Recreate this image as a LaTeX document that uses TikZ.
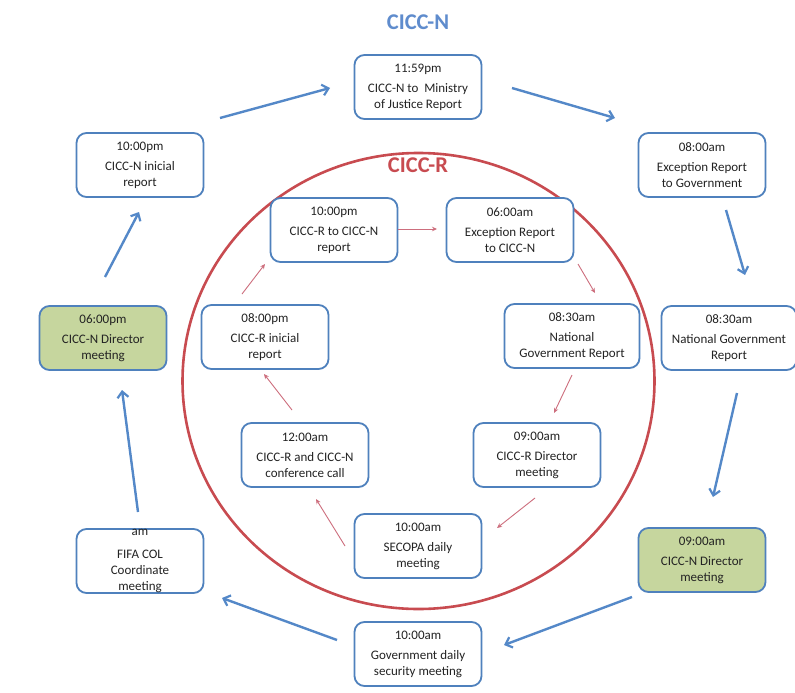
\documentclass[tikz,border=0pt]{standalone}
\usepackage{fontspec}
\setmainfont{Carlito}
\usetikzlibrary{arrows.meta}
\definecolor{boxblue}{RGB}{79,129,189}
\definecolor{arrblue}{RGB}{84,136,200}
\definecolor{titleblue}{RGB}{95,140,205}
\definecolor{cred}{RGB}{200,75,80}
\definecolor{pinkarr}{RGB}{205,110,125}
\definecolor{boxgreen}{RGB}{198,214,158}
\definecolor{txt}{RGB}{35,35,35}
\tikzset{
  stepbox/.style={draw=boxblue, line width=1.8pt, rounded corners=10pt, fill=white,
    minimum width=127pt, minimum height=64pt, inner sep=2pt, align=center,
    text=txt, font=\fontsize{13}{16}\selectfont},
  widebox/.style={stepbox, minimum width=135pt},
  greenbox/.style={stepbox, fill=boxgreen},
  plaintext/.style={align=center, text=txt, inner sep=0pt, font=\fontsize{13}{16}\selectfont},
  outarr/.style={draw=arrblue, line width=2.4pt, -{Straight Barb[length=6pt,width=11pt,line width=2.2pt]}},
  inarr/.style={draw=pinkarr, line width=0.9pt, -{Stealth[length=5pt,width=4.5pt]}},
  titletext/.style={font=\fontsize{22.5}{26}\selectfont\bfseries}
}
\begin{document}
\begin{tikzpicture}[x=1pt,y=-1pt]
\useasboundingbox[fill=white] (0,0) rectangle (795,693);
% red circle
\draw[cred, line width=2.6pt] (418.5,381) ellipse [x radius=236, y radius=228];
% titles
\node[titletext, text=titleblue] (tn) at (418,22) {CICC-N};
\node[titletext, text=cred] (tr) at (418,165) {CICC-R};
% outer nodes
\node[stepbox] (n1) at (418,87) {11:59pm\\[4pt]CICC-N to~~Ministry\\of Justice Report};
\node[stepbox] (n2) at (702,165) {08:00am\\[4pt]Exception Report\\to Government};
\node[widebox] (n3) at (729,338) {08:30am\\[4pt]National Government\\Report};
\node[greenbox] (n4) at (702,560) {09:00am\\[4pt]CICC-N Director\\meeting};
\node[stepbox] (n5) at (418,654) {10:00am\\[4pt]Government daily\\security meeting};
\node[stepbox] (n6) at (140,561) {};
\node[plaintext] (n6t) at (n6.center) {am\\[7pt]FIFA COL\\Coordinate\\meeting};
\node[greenbox] (n7) at (103,338) {06:00pm\\[4pt]CICC-N Director\\meeting};
\node[stepbox] (n8) at (140,165) {10:00pm\\[4pt]CICC-N inicial\\report};
% inner nodes
\node[stepbox] (a) at (334,230) {10:00pm\\[4pt]CICC-R to CICC-N\\report};
\node[stepbox] (b) at (510,230) {06:00am\\[4pt]Exception Report\\to CICC-N};
\node[widebox] (c) at (572,336) {08:30am\\[4pt]National\\Government Report};
\node[stepbox] (d) at (265,337) {08:00pm\\[4pt]CICC-R inicial\\report};
\node[stepbox] (e) at (305,455) {12:00am\\[4pt]CICC-R and CICC-N\\conference call};
\node[stepbox] (f) at (537,455) {09:00am\\[4pt]CICC-R Director\\meeting};
\node[stepbox] (g) at (418,546) {10:00am\\[4pt]SECOPA daily\\meeting};
% outer arrows
\draw[outarr] ([shift={(80,-47)}]n8.center) -- ([shift={(-88,1)}]n1.center);
\draw[outarr] ([shift={(94,1)}]n1.center) -- ([shift={(-87,-47)}]n2.center);
\draw[outarr] ([shift={(24,45)}]n2.center) -- ([shift={(16,-63)}]n3.center);
\draw[outarr] ([shift={(8,55)}]n3.center) -- ([shift={(11,-63)}]n4.center);
\draw[outarr] ([shift={(-70,37)}]n4.center) -- ([shift={(86,-9)}]n5.center);
\draw[outarr] ([shift={(-81,-14)}]n5.center) -- ([shift={(82,37)}]n6.center);
\draw[outarr] ([shift={(-2,-49)}]n6.center) -- ([shift={(19,52)}]n7.center);
\draw[outarr] ([shift={(2,-61)}]n7.center) -- ([shift={(-1,47)}]n8.center);
% inner arrows
\draw[inarr] ([shift={(64,-1)}]a.center) -- ([shift={(-73,-1)}]b.center);
\draw[inarr] ([shift={(68,34)}]b.center) -- ([shift={(23,-43)}]c.center);
\draw[inarr] ([shift={(0,39)}]c.center) -- ([shift={(17,-42)}]f.center);
\draw[inarr] ([shift={(-2,43)}]f.center) -- ([shift={(79,-18)}]g.center);
\draw[inarr] ([shift={(-73,0)}]g.center) -- ([shift={(11,44)}]e.center);
\draw[inarr] ([shift={(-13,-45)}]e.center) -- ([shift={(-1,37)}]d.center);
\draw[inarr] ([shift={(-23,-43)}]d.center) -- ([shift={(-69,34)}]a.center);
\end{tikzpicture}
\end{document}
